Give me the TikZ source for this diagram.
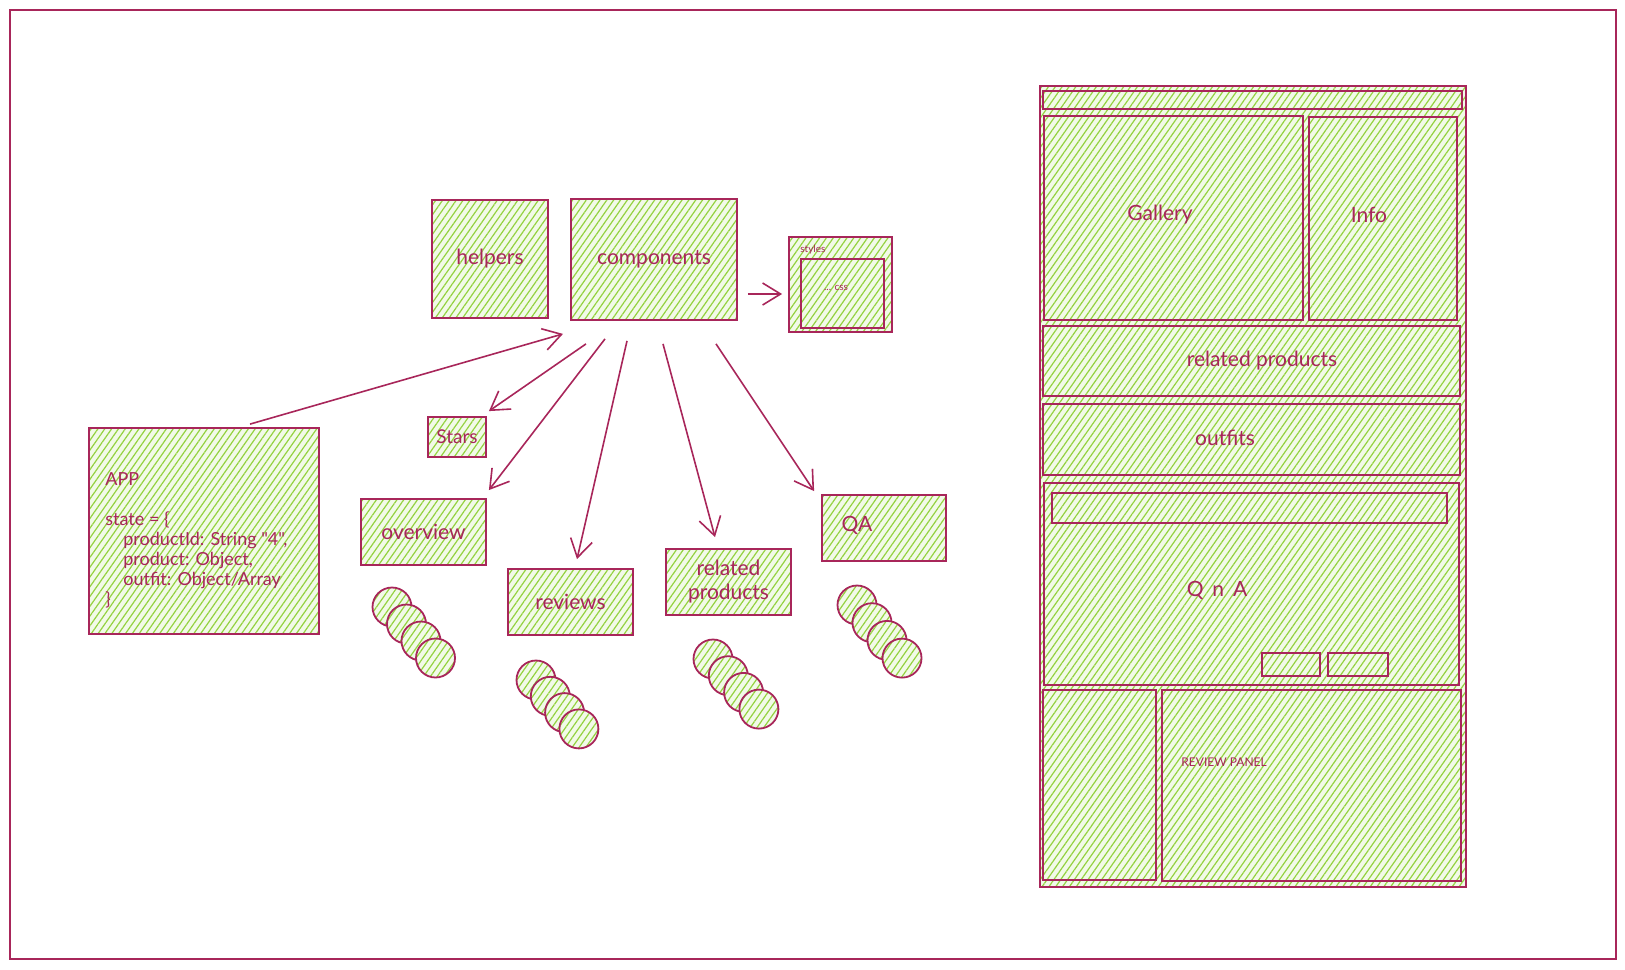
\documentclass[tikz,border=0pt]{standalone}
\usepackage{fontspec}
\setmainfont{Lato}
\newfontfamily\appfont{Lato}
\usetikzlibrary{patterns.meta,arrows.meta}
\definecolor{ink}{HTML}{A8265A}
\definecolor{leaf}{HTML}{94D240}
\tikzset{
	sketch/.style={draw=ink, line width=0.9pt, text=ink, inner sep=0pt,
		font=\fontsize{10.5}{12}\selectfont, preaction={fill=leaf!12},
		pattern={Lines[angle=55,distance=2.8pt,line width=0.6pt]}, pattern color=leaf},
	pill/.style={sketch, circle, minimum size=19.5pt},
	tag/.style={text=ink, inner sep=0pt, font=\fontsize{10.5}{12}\selectfont},
	link/.style={draw=ink, line width=0.8pt, -{Straight Barb[length=9pt,width=11pt]}},
}

\begin{document}
\begin{tikzpicture}[x=0.5pt,y=-0.5pt]
		\useasboundingbox (0,0) rectangle (1625,969);
		\node[draw=ink, line width=1pt, inner sep=0pt, minimum width=803pt, minimum height=474.5pt] (board) at (813,484.5) {};

		\node[sketch, minimum width=58pt, minimum height=59pt] (helpers) at (490,259) {helpers};
		\node[sketch, minimum width=83pt, minimum height=60.5pt] (components) at (654,259.5) {components};
		\node[sketch, minimum width=51.5pt, minimum height=47.5pt] (styles) at (840.5,284.5) {};
		\node[sketch, minimum width=41.5pt, minimum height=34.5pt] (css) at (842.5,293.5) {};
		\node[tag, anchor=west, font=\fontsize{5}{6}\selectfont] (styles-l) at (800,250) {styles};
		\node[tag, font=\fontsize{5}{6}\selectfont] (css-l) at (836,288) {... css};

		\node[sketch, minimum width=115pt, minimum height=103pt] (app) at (204,531) {};
		\node[tag, anchor=north west, align=left, font=\appfont\fontsize{9}{10}\selectfont] (app-l) at (105,472) {APP\\[10pt]
			state = \{\\
			\hspace*{1em}productId: String "4",\\
			\hspace*{1em}product: Object,\\
			\hspace*{1em}outfit: Object/Array\\
			\}};

		\node[sketch, minimum width=29pt, minimum height=20pt, font=\fontsize{9.5}{11}\selectfont] (stars) at (457,437) {Stars};
		\node[sketch, minimum width=62.5pt, minimum height=33pt] (overview) at (423.5,532) {overview};
		\node[sketch, minimum width=62.5pt, minimum height=33pt] (reviews) at (570.5,602) {reviews};
		\node[sketch, minimum width=62.5pt, minimum height=33pt, align=center] (related) at (728.5,582) {related\\products};
		\node[sketch, minimum width=62pt, minimum height=33pt] (qa) at (884,528) {};
		\node[tag] (qa-l) at (857,525) {QA};

		\foreach \i in {0,...,3} {
			\node[pill] (ov-\i) at ({392+14.5*\i},{607+17*\i}) {};
			\node[pill] (rv-\i) at ({536+14.3*\i},{680+16.3*\i}) {};
			\node[pill] (rp-\i) at ({713+15.3*\i},{659+16.7*\i}) {};
			\node[pill] (qa-\i) at ({857+15*\i},{605+17.7*\i}) {};
		}

		\draw[link] ([xshift=23pt,yshift=1.5pt]app.north) -- ([xshift=-45.5pt,yshift=-6.5pt]components.south);
		\draw[link] ([xshift=5pt,yshift=-17.25pt]components.east) -- ([xshift=-3pt,yshift=-4.75pt]styles.west);
		\draw[link] ([xshift=-34pt,yshift=-11.5pt]components.south) -- ([xshift=1pt,yshift=2.5pt]stars.north east);
		\draw[link] ([xshift=-24.5pt,yshift=-9pt]components.south) -- ([xshift=1pt,yshift=4pt]overview.north east);
		\draw[link] ([xshift=-13.5pt,yshift=-10pt]components.south) -- ([xshift=3.25pt,yshift=4.5pt]reviews.north);
		\draw[link] ([xshift=4.5pt,yshift=-11.5pt]components.south) -- ([xshift=-6.75pt,yshift=5.5pt]related.north);
		\draw[link] ([xshift=31pt,yshift=-11.5pt]components.south) -- ([xshift=-3.5pt,yshift=1.5pt]qa.north west);

		\node[sketch, minimum width=213pt, minimum height=400.5pt] (page) at (1253,486.5) {};
		\node[sketch, minimum width=209.5pt, minimum height=9pt] (topbar) at (1252.5,100) {};
		\node[sketch, minimum width=129.5pt, minimum height=102pt] (gallery) at (1173.5,218) {};
		\node[sketch, minimum width=74pt, minimum height=101.5pt] (info) at (1383,218.5) {};
		\node[sketch, minimum width=208.5pt, minimum height=35pt] (relbar) at (1251.5,361) {};
		\node[sketch, minimum width=208.5pt, minimum height=35.5pt] (outfits) at (1251.5,439.5) {};
		\node[sketch, minimum width=207.5pt, minimum height=101pt] (qna) at (1251.5,584) {};
		\node[sketch, minimum width=197.5pt, minimum height=15pt] (qnabar) at (1249.5,508) {};
		\node[sketch, minimum width=29pt, minimum height=11.5pt] (btn-a) at (1291,664.5) {};
		\node[sketch, minimum width=30pt, minimum height=11.5pt] (btn-b) at (1358,664.5) {};
		\node[sketch, minimum width=56.5pt, minimum height=95pt] (side) at (1099.5,785) {};
		\node[sketch, minimum width=149.5pt, minimum height=95.5pt] (panel) at (1311.5,785.5) {};

		\node[tag] (gallery-l) at (1160,215) {Gallery};
		\node[tag] (info-l) at (1369,215) {Info};
		\node[tag] (relbar-l) at (1262,361) {related products};
		\node[tag] (outfits-l) at (1225,438) {outfits};
		\node[tag] (qna-l) at (1217,590) {Q\, n\, A};
		\node[tag, anchor=west, font=\fontsize{6}{7}\selectfont] (panel-l) at (1181,762) {REVIEW PANEL};
	\end{tikzpicture}
\end{document}
